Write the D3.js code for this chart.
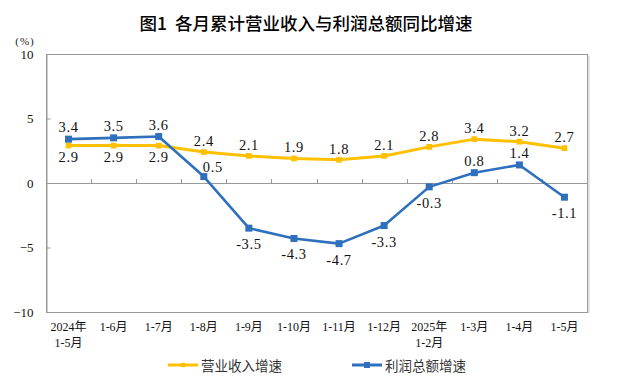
<!DOCTYPE html>
<html>
<head>
<meta charset="utf-8">
<script src="https://cdn.jsdelivr.net/npm/d3@7/dist/d3.min.js"></script>
<style>
  html, body { margin: 0; padding: 0; background: #fff; }
  svg { display: block; }
</style>
</head>
<body>
<svg id="chart" width="618" height="387"></svg>
<script>
// ---- Data ----
const categories = ["2024年\n1-5月", "1-6月", "1-7月", "1-8月", "1-9月", "1-10月", "1-11月", "1-12月", "2025年\n1-2月", "1-3月", "1-4月", "1-5月"];
const revenueGrowth = [2.9, 2.9, 2.9, 2.4, 2.1, 1.9, 1.8, 2.1, 2.8, 3.4, 3.2, 2.7];
const profitGrowth = [3.4, 3.5, 3.6, 0.5, -3.5, -4.3, -4.7, -3.3, -0.3, 0.8, 1.4, -1.1];
const yTicks = [-10, -5, 0, 5, 10];
const seriesNames = ["营业收入增速", "利润总额增速"];
const titleText = "图1\u00A0\u00A0各月累计营业收入与利润总额同比增速";
const unitText = "(%)";

// ---- Layout ----
const W = 618, H = 387;
const plot = { left: 46, right: 587, top: 54, bottom: 312 };
const serif = "'Liberation Serif', 'Times New Roman', 'Noto Sans CJK SC', serif";
const sans = "'Noto Sans CJK SC', 'Noto Sans', sans-serif";
const yellow = "#FFC000";
const blue = "#2E6FBE";

const svg = d3.select("#chart");

const x = d3.scaleBand().domain(categories).range([plot.left, plot.right]);
const cx = c => x(c) + x.bandwidth() / 2;
const y = d3.scaleLinear().domain([-10, 10]).range([plot.bottom, plot.top]);

// Title
svg.append("text")
  .attr("x", 306).attr("y", 22)
  .attr("text-anchor", "middle").attr("dominant-baseline", "central")
  .attr("font-family", sans).attr("font-size", 17.5).attr("font-weight", 500)
  .attr("fill", "#000")
  .text(titleText);

// Unit
svg.append("text")
  .attr("x", 25).attr("y", 41)
  .attr("text-anchor", "middle").attr("dominant-baseline", "central")
  .attr("font-family", serif).attr("font-size", 11).attr("letter-spacing", 1)
  .attr("fill", "#222")
  .text(unitText);

// Plot frame
svg.append("rect")
  .attr("x", plot.left + 0.5).attr("y", plot.top + 0.5)
  .attr("width", plot.right - plot.left).attr("height", plot.bottom - plot.top)
  .attr("fill", "none").attr("stroke", "#999").attr("stroke-width", 1);
svg.append("line")
  .attr("x1", plot.right + 2).attr("x2", plot.right + 2)
  .attr("y1", plot.top + 2).attr("y2", plot.bottom + 1)
  .attr("stroke", "#ddd").attr("stroke-width", 1.5);

// Y axis
const yAxis = d3.axisLeft(y).tickValues(yTicks).tickSizeInner(-4).tickSizeOuter(0).tickPadding(13);
const yg = svg.append("g").attr("transform", `translate(${plot.left + 0.5},0)`).call(yAxis);
yg.select(".domain").attr("stroke", "#999");
yg.selectAll(".tick line").attr("stroke", "#999");
yg.selectAll(".tick text")
  .attr("font-family", serif).attr("font-size", 13).attr("fill", "#111");

// Zero line
svg.append("line")
  .attr("x1", plot.left).attr("x2", plot.right)
  .attr("y1", Math.round(y(0)) + 0.5).attr("y2", Math.round(y(0)) + 0.5)
  .attr("stroke", "#999").attr("stroke-width", 1);

// Category tick marks on zero line (between categories)
const boundaries = categories.slice(1).map(c => x(c));
svg.append("g").selectAll("line").data(boundaries).join("line")
  .attr("x1", d => Math.round(d) + 0.5).attr("x2", d => Math.round(d) + 0.5)
  .attr("y1", Math.round(y(0))).attr("y2", Math.round(y(0)) - 4)
  .attr("stroke", "#999");

// X labels
const xAxis = d3.axisBottom(x).tickSize(0).tickPadding(0);
const xg = svg.append("g").attr("transform", `translate(0,${plot.bottom})`).call(xAxis);
xg.select(".domain").remove();
xg.selectAll(".tick text").each(function(d) {
  const t = d3.select(this);
  t.text(null).attr("y", 0).attr("dy", null)
    .attr("font-family", serif).attr("font-size", 12).attr("fill", "#111")
    .attr("dominant-baseline", "central");
  d.split("\n").forEach((line, i) => {
    t.append("tspan").attr("x", 0).attr("y", 15 + i * 15.5).text(line);
  });
});

// Lines
const lineGen = vals => d3.line().x((d, i) => cx(categories[i])).y(d => y(d))(vals);

svg.append("path").attr("d", lineGen(revenueGrowth))
  .attr("fill", "none").attr("stroke", yellow).attr("stroke-width", 3).attr("stroke-linejoin", "round");
svg.append("path").attr("d", lineGen(profitGrowth))
  .attr("fill", "none").attr("stroke", blue).attr("stroke-width", 2.6).attr("stroke-linejoin", "round");

// Markers
const diamond = d3.symbol().type(d3.symbolDiamond2).size(42);
svg.append("g").selectAll("path").data(revenueGrowth).join("path")
  .attr("d", diamond)
  .attr("transform", (d, i) => `translate(${cx(categories[i])},${y(d)}) rotate(45)`)
  .attr("fill", yellow);
svg.append("g").selectAll("rect").data(profitGrowth).join("rect")
  .attr("x", (d, i) => cx(categories[i]) - 3.5).attr("y", d => y(d) - 3.5)
  .attr("width", 7).attr("height", 7).attr("fill", blue);

// Data labels
const revBelow = new Set([0, 1, 2]);
const profBelow = new Set([4, 5, 6, 7, 8, 11]);
const labelStyle = sel => sel
  .attr("font-family", serif).attr("font-size", 14.5).attr("letter-spacing", 0.6)
  .attr("fill", "#111").attr("text-anchor", "middle").attr("dominant-baseline", "central");

svg.append("g").selectAll("text").data(revenueGrowth).join("text")
  .attr("x", (d, i) => cx(categories[i]))
  .attr("y", (d, i) => y(d) + (revBelow.has(i) ? 11 : -11))
  .call(labelStyle)
  .text(d => d.toFixed(1));

svg.append("g").selectAll("text").data(profitGrowth).join("text")
  .attr("x", (d, i) => cx(categories[i]) + (i === 3 ? 9 : 0))
  .attr("y", (d, i) => y(d) + (profBelow.has(i) ? 16 : (i === 3 ? -10 : -12)))
  .call(labelStyle)
  .text(d => d.toFixed(1));

// Legend
const legendItems = [
  { name: seriesNames[0], color: yellow, x: 168, type: "diamond" },
  { name: seriesNames[1], color: blue, x: 352, type: "square" }
];
const ly = 365;
legendItems.forEach(item => {
  const g = svg.append("g");
  g.append("line").attr("x1", item.x).attr("x2", item.x + 30)
    .attr("y1", ly).attr("y2", ly)
    .attr("stroke", item.color).attr("stroke-width", 3);
  if (item.type === "diamond") {
    g.append("path").attr("d", d3.symbol().type(d3.symbolDiamond2).size(24))
      .attr("transform", `translate(${item.x + 15},${ly}) rotate(45)`)
      .attr("fill", item.color);
  } else {
    g.append("rect").attr("x", item.x + 12).attr("y", ly - 3).attr("width", 6).attr("height", 6)
      .attr("fill", item.color);
  }
  g.append("text").attr("x", item.x + 33).attr("y", ly)
    .attr("dominant-baseline", "central")
    .attr("font-family", sans).attr("font-size", 13.5).attr("fill", "#333")
    .text(item.name);
});
</script>
</body>
</html>
